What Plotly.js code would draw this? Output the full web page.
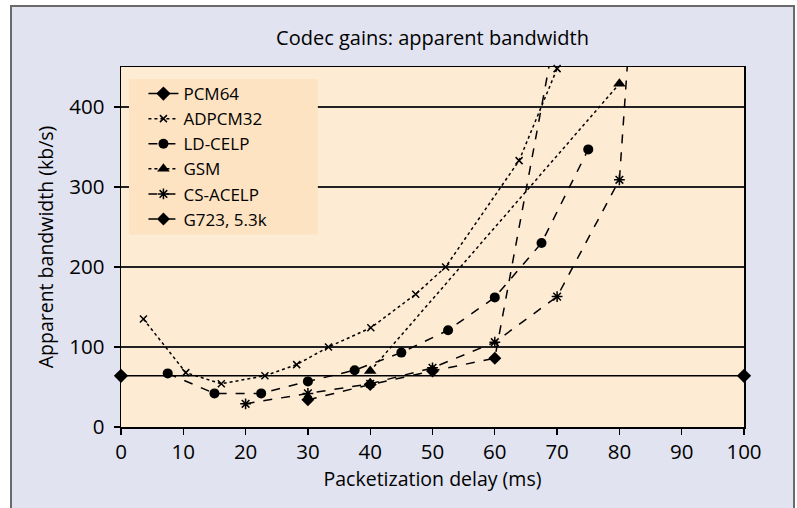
<!DOCTYPE html>
<html>
<head>
<meta charset="utf-8">
<script src="https://cdn.plot.ly/plotly-3.0.1.min.js"></script>
<style>
  html, body { margin: 0; padding: 0; background: #ffffff; }
  #frame { position: absolute; left: 10px; top: 5px; width: 781px; height: 510px;
           background: #e1e3f0; border-left: 2px solid #6a6a6a; border-top: 2px solid #6a6a6a; border-right: 2px solid #6a6a6a; }
  #chart { position: absolute; left: 0; top: 0; width: 797px; height: 508px; }
</style>
</head>
<body>
<div id="frame"></div>
<div id="chart"></div>
<script>
// Data
const pcm64X = [0, 100];
const pcm64Y = [64, 64];

const adpcm32X = [3.6, 10.4, 16.1, 23.1, 28.2, 33.3, 40.1, 47.3, 52.1, 63.9, 70.0];
const adpcm32Y = [135, 68, 54, 64, 78, 100, 124, 166, 200, 333, 448];

const ldcelpX = [7.5, 15, 22.5, 30, 37.5, 45, 52.5, 60, 67.5, 75];
const ldcelpY = [67, 42, 42, 57, 71, 93, 121, 162, 230, 347];

const gsmX = [40, 80];
const gsmY = [70, 429];

const csacelpX = [20, 30, 40, 50, 60, 70, 80, 90];
const csacelpY = [29, 42, 54, 74, 106, 163, 309, 1430];

const g723X = [30, 40, 50, 60, 70];
const g723Y = [34, 53, 70, 86, 505];

const xTicks = [0, 10, 20, 30, 40, 50, 60, 70, 80, 90, 100];
const yTicks = [0, 100, 200, 300, 400];

const FONT = "Open Sans, DejaVu Sans, sans-serif";

function tr(name, x, y, dash, symbol, size, mline) {
  return {
    type: 'scatter', mode: 'lines+markers', name: name, x: x, y: y,
    line: {color: '#000000', width: 1.5, dash: dash},
    marker: {symbol: symbol, size: size, color: '#000000',
             line: {color: '#000000', width: mline}},
    cliponaxis: false
  };
}

const data = [
  tr('PCM64', pcm64X, pcm64Y, 'solid', 'diamond', 11, 0),
  tr('ADPCM32', adpcm32X, adpcm32Y, 'dot', 'x-thin-open', 7, 1.5),
  tr('LD-CELP', ldcelpX, ldcelpY, 'dash', 'circle', 10, 0),
  tr('GSM', gsmX, gsmY, 'dot', 'triangle-up', 11, 0),
  tr('CS-ACELP', csacelpX, csacelpY, 'dash', 'asterisk-open', 9, 1.5),
  tr('G723, 5.3k', g723X, g723Y, 'dash', 'diamond', 10, 0)
];
// keep the steep exits clipped to the plot area
data[4].cliponaxis = true;
data[5].cliponaxis = true;

const layout = {
  width: 797, height: 508,
  margin: {l: 121, r: 53, t: 67, b: 81},
  paper_bgcolor: 'rgba(0,0,0,0)',
  plot_bgcolor: '#fdebd4',
  font: {family: FONT, color: '#000000', size: 19},
  title: {text: 'Codec gains: apparent bandwidth', x: 0.5, xref: 'paper', xanchor: 'center',
          y: 0.925, yref: 'container', yanchor: 'middle', font: {size: 20, family: FONT, color: '#000'}},
  showlegend: true,
  legend: {x: 0.036, y: 0.975, xanchor: 'left', yanchor: 'top',
           bgcolor: 'rgba(0,0,0,0)', borderwidth: 0, font: {size: 17, family: FONT},
           tracegroupgap: 0},
  shapes: [{type: 'rect', xref: 'paper', yref: 'paper', layer: 'above',
            x0: 0.0128, x1: 0.316, y0: 0.535, y1: 0.967,
            fillcolor: '#fde3c2', line: {width: 0}}],
  xaxis: {range: [0, 100], tickvals: xTicks, ticks: 'outside', ticklen: 6, tickwidth: 1.3,
          tickcolor: '#000', showgrid: false, zeroline: false,
          showline: true, linecolor: '#000', linewidth: 1.5, mirror: true,
          tickfont: {size: 20.5}, title: {text: 'Packetization delay (ms)', font: {size: 19.5}, standoff: 8}},
  yaxis: {range: [0, 450], tickvals: yTicks, ticks: 'outside', ticklen: 6, tickwidth: 1.3,
          tickcolor: '#000', showgrid: true, gridcolor: '#222', gridwidth: 1.5, zeroline: false,
          showline: true, linecolor: '#000', linewidth: 1.5, mirror: true, ticklabelstandoff: 5,
          tickfont: {size: 20.5}, title: {text: 'Apparent bandwidth (kb/s)', font: {size: 19.5}, standoff: 10}}
};

Plotly.newPlot('chart', data, layout, {displayModeBar: false, staticPlot: true});
</script>
</body>
</html>
